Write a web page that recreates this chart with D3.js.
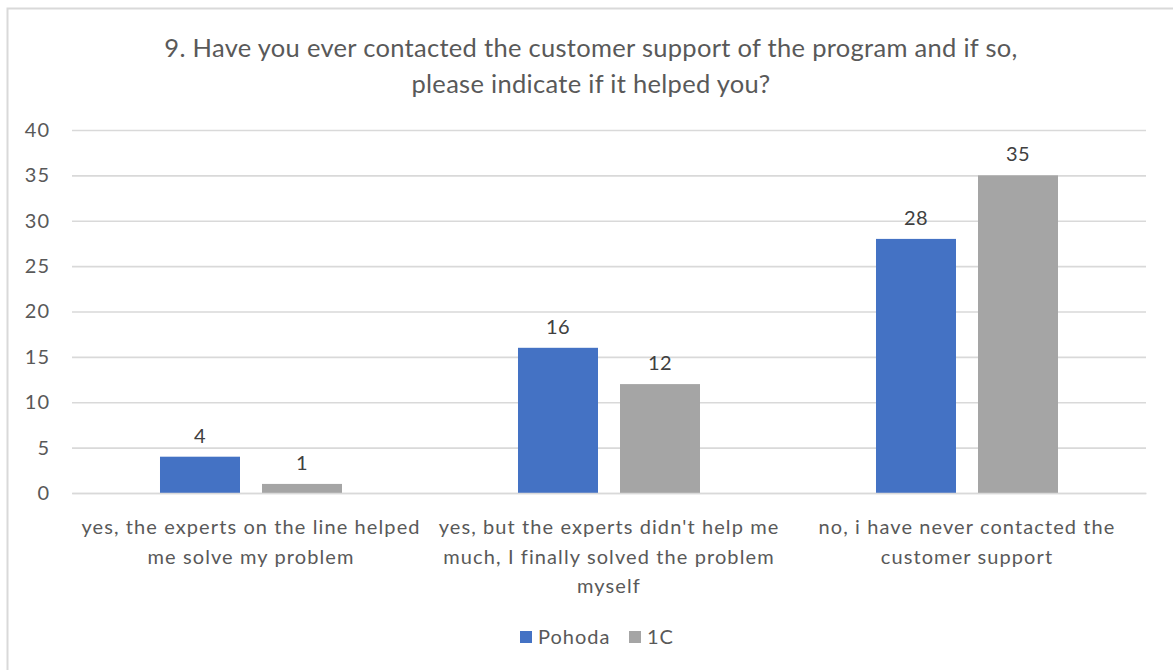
<!DOCTYPE html>
<html>
<head>
<meta charset="utf-8">
<script src="https://cdn.jsdelivr.net/npm/d3@7"></script>
<style>
  body { margin: 0; background: #fff; }
  svg { display: block; font-family: Lato, "Open Sans", sans-serif; }
</style>
</head>
<body>
<div id="chart"></div>
<script>
// chart data
const categories = [
  ["yes, the experts on the line helped", "me solve my problem"],
  ["yes, but the experts didn't help me", "much, I finally solved the problem", "myself"],
  ["no, i have never contacted the", "customer support"]
];
const seriesNames = ["Pohoda", "1C"];
const pohodaValues = [4, 16, 28];
const oneCValues = [1, 12, 35];
const yTicks = [0, 5, 10, 15, 20, 25, 30, 35, 40];
const titleLines = [
  "9. Have you ever contacted the customer support of the program and if so,",
  "please indicate if it helped you?"
];

const colors = { Pohoda: "#4472C4", "1C": "#A5A5A5" };
const W = 1173, H = 670;
const margin = { top: 130, right: 27, bottom: 177, left: 72 };

const svg = d3.select("#chart").append("svg").attr("width", W).attr("height", H);

// outer chart frame (only top + left edges are visible in the crop)
svg.append("rect")
  .attr("x", 7.5).attr("y", 8.5)
  .attr("width", W + 20).attr("height", H + 20)
  .attr("fill", "none").attr("stroke", "#d9d9d9").attr("stroke-width", 2);

// title
svg.append("g").selectAll("text")
  .data(titleLines)
  .join("text")
  .attr("x", 591)
  .attr("y", (d, i) => 57 + i * 36)
  .attr("text-anchor", "middle")
  .attr("font-size", 25.5)
  .attr("letter-spacing", 0.3)
  .attr("fill", "#595959")
  .text(d => d);

const rows = categories.map((c, i) => ({ key: i, label: c, Pohoda: pohodaValues[i], "1C": oneCValues[i] }));

const x0 = d3.scaleBand()
  .domain(rows.map(d => d.key))
  .range([margin.left, W - margin.right])
  .padding(0);

const x1 = d3.scaleBand()
  .domain(seriesNames)
  .range([0, x0.bandwidth()])
  .paddingInner(22 / 102)
  .paddingOuter(0.8627);

const y = d3.scaleLinear()
  .domain([0, 40])
  .range([H - margin.bottom, margin.top]);

// gridlines + y labels
svg.append("g")
  .attr("transform", `translate(${margin.left},0)`)
  .call(d3.axisLeft(y).tickValues(yTicks).tickSize(-(W - margin.left - margin.right)).tickPadding(22))
  .call(g => g.select(".domain").remove())
  .call(g => g.selectAll(".tick line").attr("stroke", "#d9d9d9").attr("stroke-width", 1.6))
  .call(g => g.selectAll(".tick text")
    .attr("font-size", 20).attr("letter-spacing", 1).attr("fill", "#595959")
    .attr("font-family", "Lato, sans-serif"));

// bars
const groups = svg.append("g").selectAll("g")
  .data(rows)
  .join("g")
  .attr("transform", d => `translate(${x0(d.key)},0)`);

groups.selectAll("rect")
  .data(d => seriesNames.map(s => ({ s, v: d[s] })))
  .join("rect")
  .attr("x", d => x1(d.s))
  .attr("y", d => y(d.v))
  .attr("width", x1.bandwidth())
  .attr("height", d => y(0) - y(d.v))
  .attr("fill", d => colors[d.s]);

// data labels
groups.selectAll("text.val")
  .data(d => seriesNames.map(s => ({ s, v: d[s] })))
  .join("text")
  .attr("class", "val")
  .attr("x", d => x1(d.s) + x1.bandwidth() / 2)
  .attr("y", d => y(d.v) - 14)
  .attr("text-anchor", "middle")
  .attr("font-size", 20)
  .attr("letter-spacing", 0.5)
  .attr("fill", "#404040")
  .text(d => d.v);

// x axis line + category labels
const xAxis = svg.append("g")
  .attr("transform", `translate(0,${y(0)})`)
  .call(d3.axisBottom(x0).tickSize(0).tickFormat(""))
  .call(g => g.select(".domain").attr("stroke", "#d9d9d9").attr("stroke-width", 1.6));

xAxis.selectAll(".tick").each(function (k) {
  d3.select(this).select("text").remove();
  d3.select(this).append("g").selectAll("text")
    .data(categories[k])
    .join("text")
    .attr("y", (d, i) => 41 + i * 29.5)
    .attr("text-anchor", "middle")
    .attr("font-size", 20)
    .attr("letter-spacing", 1.1)
    .attr("fill", "#595959")
    .attr("font-family", "Lato, sans-serif")
    .text(d => d);
});

// legend
const legend = svg.append("g").attr("transform", "translate(520,637)");
const legendX = [0, 109];
seriesNames.forEach((s, i) => {
  const g = legend.append("g").attr("transform", `translate(${legendX[i]},0)`);
  g.append("rect").attr("x", 0).attr("y", -6).attr("width", 12).attr("height", 12).attr("fill", colors[s]);
  g.append("text").attr("x", 18).attr("y", 7)
    .attr("font-size", 20).attr("letter-spacing", 1).attr("fill", "#595959").text(s);
});
</script>
</body>
</html>
